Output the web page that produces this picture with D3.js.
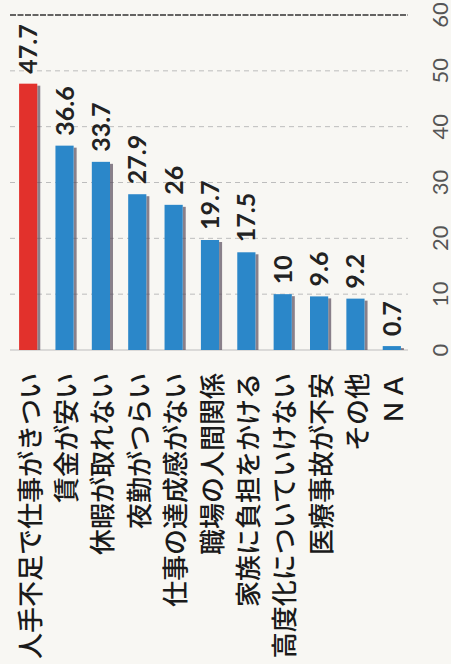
<!DOCTYPE html>
<html>
<head>
<meta charset="utf-8">
<script src="https://cdn.jsdelivr.net/npm/d3@7"></script>
<style>
  html, body { margin: 0; padding: 0; background: #f8f7f3; }
  svg { display: block; }
</style>
</head>
<body>
<script>
// 辞めたい理由（%）
const categories = [
  "人手不足で仕事がきつい", "賃金が安い", "休暇が取れない", "夜勤がつらい",
  "仕事の達成感がない", "職場の人間関係", "家族に負担をかける",
  "高度化についていけない", "医療事故が不安", "その他", "ＮＡ"
];
const values = [47.7, 36.6, 33.7, 27.9, 26, 19.7, 17.5, 10, 9.6, 9.2, 0.7];
const ticks = [0, 10, 20, 30, 40, 50, 60];
const highlight = "人手不足で仕事がきつい";

const W = 451, H = 664;
const svg = d3.select("body").append("svg").attr("width", W).attr("height", H);

const y = d3.scaleLinear().domain([0, 60]).range([350, 15]);
const x = d3.scaleBand().domain(categories).range([10, 410])
  .paddingInner(0.5).paddingOuter(0.25);

// gridlines
svg.append("g").selectAll("line").data(ticks).join("line")
  .attr("x1", 10).attr("x2", 408)
  .attr("y1", d => y(d)).attr("y2", d => y(d))
  .attr("stroke", d => d === 60 ? "#333" : "#bdbdbd")
  .attr("stroke-width", d => d === 60 ? 1.3 : 1)
  .attr("stroke-dasharray", d => d === 60 ? "6,1.5" : (d === 0 ? null : "5,4"));

// value axis on the right, labels turned with the chart
const axis = svg.append("g").attr("transform", "translate(426,0)")
  .call(d3.axisRight(y).tickValues(ticks).tickSize(0).tickFormat(d3.format("d")));
axis.select(".domain").remove();
axis.selectAll(".tick").attr("transform", null);
axis.selectAll("text")
  .attr("x", 0).attr("y", 0).attr("dy", null)
  .attr("transform", d => `translate(13,${y(d)}) rotate(-90)`)
  .attr("text-anchor", "middle")
  .attr("dominant-baseline", "central")
  .attr("font-family", "Lato, 'Open Sans', sans-serif")
  .attr("font-size", 22)
  .attr("fill", "#555");

// bar shadows
svg.append("g").selectAll("rect").data(values).join("rect")
  .attr("x", (d, i) => x(categories[i]) + x.bandwidth())
  .attr("width", 3)
  .attr("y", d => y(d) + 2)
  .attr("height", d => Math.max(0, y(0) - y(d) - 2))
  .attr("fill", "#5a4d5c").attr("opacity", 0.7);

// bars
svg.append("g").selectAll("rect").data(values).join("rect")
  .attr("x", (d, i) => x(categories[i]))
  .attr("width", x.bandwidth())
  .attr("y", d => y(d))
  .attr("height", d => Math.max(2, y(0) - y(d)))
  .attr("fill", (d, i) => categories[i] === highlight ? "#e2312c" : "#2b87c9");

// value labels
svg.append("g").selectAll("text").data(values).join("text")
  .attr("transform", (d, i) =>
    `translate(${x(categories[i]) + x.bandwidth() / 2 - 1},${y(d) - 10}) rotate(-90)`)
  .attr("text-anchor", "start")
  .attr("dominant-baseline", "central")
  .attr("font-family", "Lato, 'Open Sans', sans-serif")
  .attr("font-weight", 700)
  .attr("font-size", 25)
  .attr("fill", "#222")
  .text(d => d);

// category labels
svg.append("g").selectAll("text").data(categories).join("text")
  .attr("transform", d => `translate(${x(d) + x.bandwidth() / 2},373) rotate(-90)`)
  .attr("text-anchor", "end")
  .attr("dominant-baseline", "central")
  .attr("font-family", "'Noto Sans CJK JP', sans-serif")
  .attr("font-weight", 500)
  .attr("font-size", 26)
  .attr("fill", "#1a1a1a")
  .text(d => d);
</script>
</body>
</html>
